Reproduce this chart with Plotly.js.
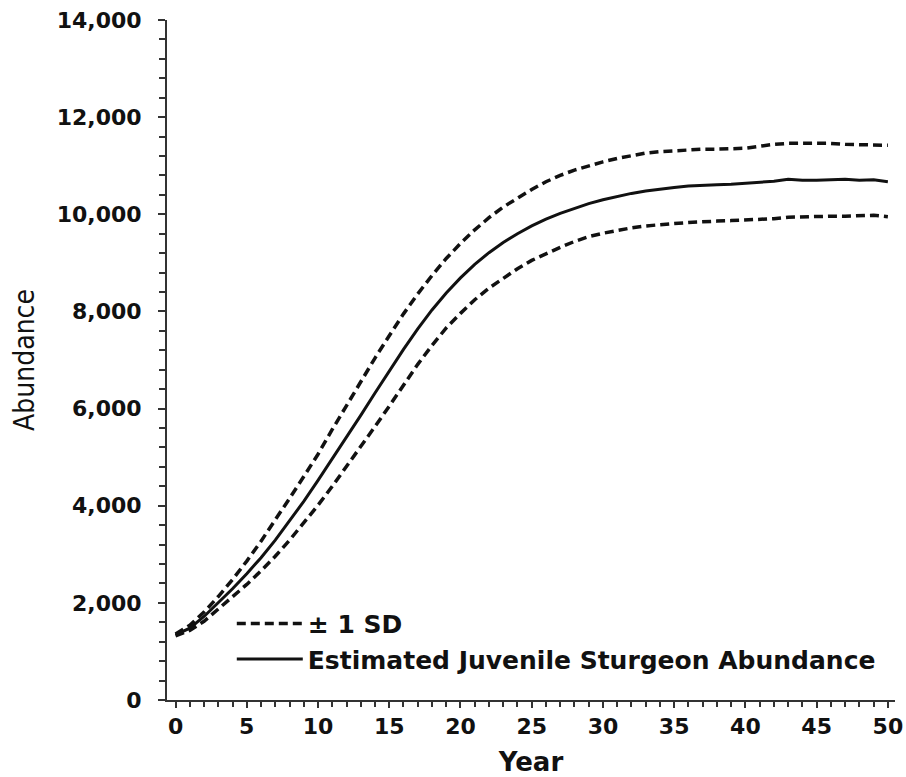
<!DOCTYPE html>
<html>
<head>
<meta charset="utf-8">
<script src="https://cdn.plot.ly/plotly-3.0.1.min.js"></script>
<style>html,body{margin:0;padding:0;background:#fff;}#chart{width:906px;height:777px;}</style>
</head>
<body>
<div id="chart"></div>
<script>
var years = [];
for (var i = 0; i <= 50; i++) years.push(i);

var meanAbundance = [1340,1480,1720,2000,2290,2600,2930,3290,3680,4090,
  4520,4960,5410,5860,6320,6780,7220,7640,8030,8380,
  8690,8970,9210,9420,9600,9760,9900,10020,10120,10220,
  10300,10370,10430,10480,10520,10550,10580,10600,10610,10620,
  10640,10660,10680,10720,10700,10700,10710,10720,10700,10710,10670];

var upperSD = [1360,1540,1810,2130,2480,2860,3270,3700,4150,4600,
  5060,5570,6070,6560,7040,7500,7950,8360,8740,9090,
  9400,9680,9930,10150,10340,10510,10670,10800,10910,11000,
  11080,11150,11210,11260,11290,11310,11330,11340,11340,11350,
  11360,11400,11440,11460,11460,11450,11460,11440,11430,11430,11420];

var lowerSD = [1320,1430,1620,1870,2120,2380,2660,2960,3290,3640,
  4010,4400,4800,5210,5630,6050,6490,6910,7300,7660,
  7960,8240,8480,8690,8880,9050,9190,9320,9440,9540,
  9610,9670,9720,9760,9790,9810,9830,9850,9860,9870,
  9880,9890,9910,9940,9950,9950,9960,9960,9970,9980,9950];

var seriesNames = ['± 1 SD', 'Estimated Juvenile Sturgeon Abundance'];

var dashStyle = {color: '#111', width: 3.5, dash: '9px,5px'};

var traces = [
  {x: years, y: upperSD, mode: 'lines', name: seriesNames[0], line: dashStyle, showlegend: true, legendrank: 1},
  {x: years, y: lowerSD, mode: 'lines', name: seriesNames[0], line: dashStyle, showlegend: false},
  {x: years, y: meanAbundance, mode: 'lines', name: seriesNames[1], line: {color: '#111', width: 3}, legendrank: 2}
];

var boldFont = 'DejaVu Sans, Verdana, sans-serif';
var tickFont = {family: boldFont, size: 22, color: '#111', weight: 'bold'};

var layout = {
  width: 906, height: 777,
  margin: {l: 167, r: 11, t: 20, b: 77},
  paper_bgcolor: '#fff', plot_bgcolor: '#fff',
  showlegend: true,
  legend: {
    x: 0.089, y: 0.146, xanchor: 'left', yanchor: 'top',
    bgcolor: 'rgba(0,0,0,0)',
    font: {family: boldFont, size: 25, color: '#111', weight: 'bold'},
    itemwidth: 66, tracegroupgap: 0
  },
  xaxis: {
    range: [-0.6, 50.5],
    tickmode: 'linear', tick0: 0, dtick: 5,
    ticks: 'outside', ticklen: 6, tickwidth: 2, tickcolor: '#333',
    minor: {dtick: 1, ticks: 'outside', ticklen: 5, tickwidth: 2, tickcolor: '#333', showgrid: false},
    showline: true, linecolor: '#333', linewidth: 2,
    showgrid: false, zeroline: false,
    tickfont: tickFont,
    title: {text: 'Year', font: {family: boldFont, size: 26, color: '#111', weight: 'bold'}, standoff: 18}
  },
  yaxis: {
    range: [0, 14000],
    tickmode: 'linear', tick0: 0, dtick: 2000,
    tickformat: ',d',
    ticks: 'outside', ticklen: 7, tickwidth: 2, tickcolor: '#333',
    minor: {dtick: 400, ticks: 'outside', ticklen: 6, tickwidth: 2, tickcolor: '#333', showgrid: false},
    showline: true, linecolor: '#333', linewidth: 2,
    showgrid: false, zeroline: false,
    tickfont: tickFont,
    ticklabelstandoff: 12,
    title: {text: 'Abundance', font: {family: 'DejaVu Sans Condensed, DejaVu Sans, sans-serif', size: 28, color: '#111'}, standoff: 14}
  }
};

Plotly.newPlot('chart', traces, layout, {displayModeBar: false, staticPlot: true});
</script>
</body>
</html>
